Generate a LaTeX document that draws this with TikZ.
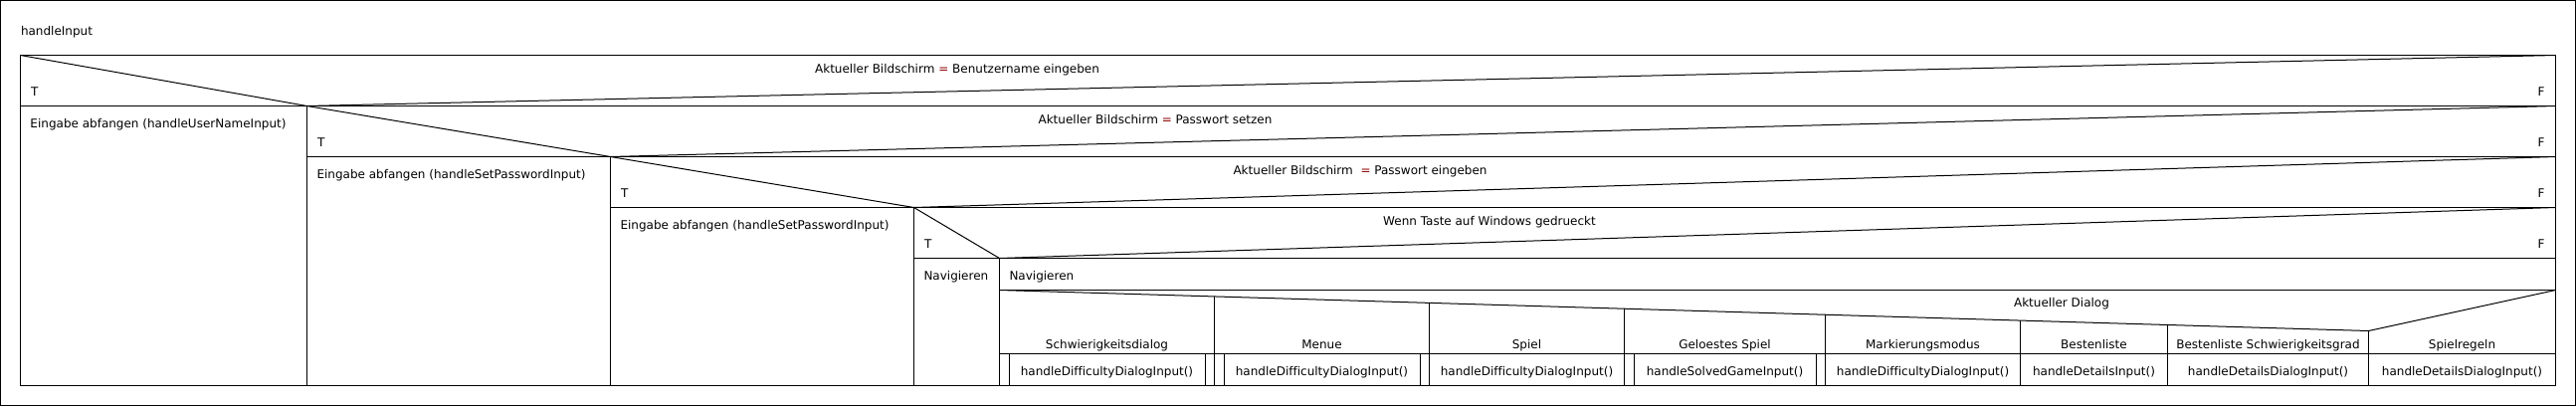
\documentclass[tikz,border=0pt]{standalone}
\usepackage{fontspec}
\setmainfont{DejaVu Sans}[Ligatures=NoCommon]
\usepackage{tikz}
\definecolor{eqred}{RGB}{140,0,0}

\begin{document}
\begin{tikzpicture}[x=1pt,y=-1pt,line width=1pt,
		every node/.style={inner sep=0pt,font=\fontsize{12}{14}\selectfont}]
			\useasboundingbox (0,0) rectangle (2589,408);
			\draw (0.5,0.5) rectangle (2588.5,407.5);
			\node[anchor=base west] (title) at (20.5,35) {handleInput};
			\draw (20.5,55.5) rectangle (2568.5,387.5);
			\foreach \xl/\xs/\yt/\yb [count=\i] in {20.5/308.5/55.5/106.5, 308.5/613.5/106.5/157.5, 613.5/918.5/157.5/208.5, 918.5/1004.5/208.5/259.5} {
				\draw (\xl,\yt) -- (\xs,\yb) -- (2568.5,\yt);
				\draw (\xl,\yb) -- (2568.5,\yb);
				\draw (\xs,\yb) -- (\xs,387.5);
				\node[anchor=base west] (true\i) at ({\xl+10},{\yb-10.5}) {T};
				\node[anchor=base east] (false\i) at (2558,{\yb-10.5}) {F};
			}
			\node[anchor=base] (cond1) at (962,73.5) {Aktueller Bildschirm \textcolor{eqred}{=} Benutzername eingeben};
			\node[anchor=base] (cond2) at (1161,124.5) {Aktueller Bildschirm \textcolor{eqred}{=} Passwort setzen};
			\node[anchor=base] (cond3) at (1367,175.5) {Aktueller Bildschirm \ \textcolor{eqred}{=} Passwort eingeben};
			\node[anchor=base] (cond4) at (1497,226.5) {Wenn Taste auf Windows gedrueckt};
			\node[anchor=base west] (user) at (30,128.5) {Eingabe abfangen (handleUserNameInput)};
			\node[anchor=base west] (setpw) at (318,179.5) {Eingabe abfangen (handleSetPasswordInput)};
			\node[anchor=base west] (getpw) at (623,230.5) {Eingabe abfangen (handleSetPasswordInput)};
			\node[anchor=base west] (nav1) at (928,281.5) {Navigieren};
			\node[anchor=base west] (nav2) at (1014,281.5) {Navigieren};

			\draw (1004.5,291.5) -- (2568.5,291.5);
			\draw (1004.5,355.5) -- (2568.5,355.5);
			\draw (1004.5,291.5) -- (2380.5,332.5) -- (2568.5,291.5);
			\node[anchor=base] (dialog) at (2072,308.5) {Aktueller Dialog};
			\foreach \xa/\xb/\lbl/\fn/\call [count=\i] in {1004.5/1220.5/Schwierigkeitsdialog/handleDifficultyDialogInput()/1, 1220.5/1436.5/Menue/handleDifficultyDialogInput()/1, 1436.5/1632.5/Spiel/handleDifficultyDialogInput()/0, 1632.5/1834.5/Geloestes Spiel/handleSolvedGameInput()/1, 1834.5/2030.5/Markierungsmodus/handleDifficultyDialogInput()/0, 2030.5/2178.5/Bestenliste/handleDetailsInput()/0, 2178.5/2380.5/Bestenliste Schwierigkeitsgrad/handleDetailsDialogInput()/0, 2380.5/2568.5/Spielregeln/handleDetailsDialogInput()/0} {
				\draw (\xb,{291.5+(\xb-1004.5)/1376*41}) -- (\xb,387.5);
				\node[anchor=base] (case\i) at ({(\xa+\xb)/2},350.5) {\lbl};
				\node[anchor=base] (call\i) at ({(\xa+\xb)/2},377.5) {\fn};
				\ifnum\call=1
					\draw ({\xa+9.5},355.5) -- ({\xa+9.5},387.5) ({\xb-9.5},355.5) -- ({\xb-9.5},387.5);
				\fi
			}
		\end{tikzpicture}
\end{document}
